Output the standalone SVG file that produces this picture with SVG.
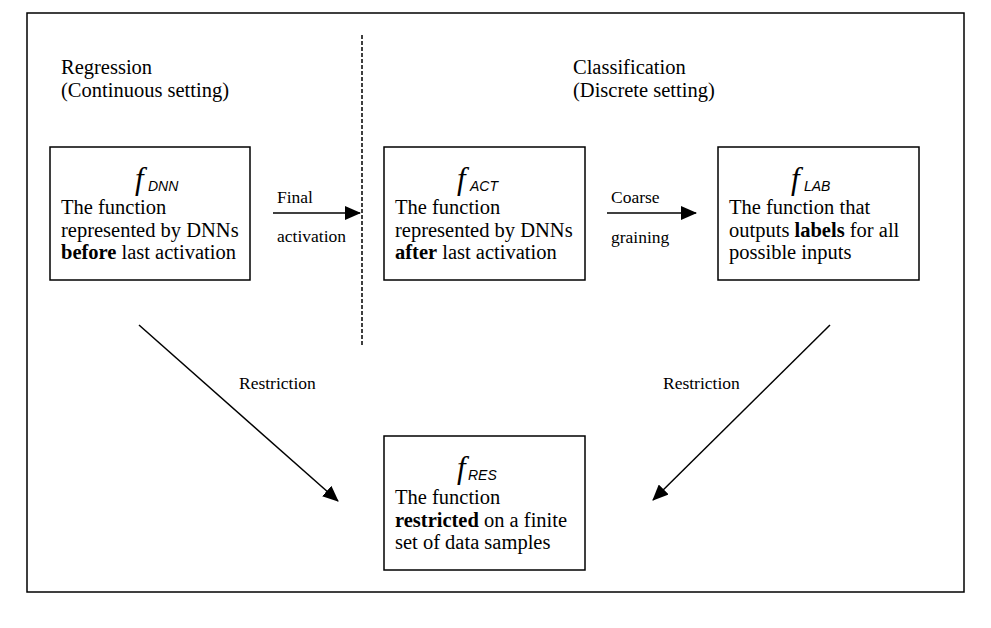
<svg xmlns="http://www.w3.org/2000/svg" width="991" height="628" viewBox="0 0 991 628">
<style>
.box{fill:#fff;stroke:#000;stroke-width:1.5}
.t{font-family:"Liberation Serif",serif;font-size:20.5px;fill:#000}
.b{font-weight:bold}
.f{font-family:"Liberation Serif",serif;font-style:italic;font-size:31px;fill:#000}
.s{font-family:"Liberation Sans",sans-serif;font-style:italic;font-size:14px;fill:#000}
.l{font-family:"Liberation Serif",serif;font-size:17.5px;fill:#000}
.c{stroke:#000;stroke-width:1.5;fill:none}
</style>
<defs>
<marker id="ah2" markerWidth="16" markerHeight="14" refX="15" refY="7" orient="auto" markerUnits="userSpaceOnUse" viewBox="0 0 16 14">
<path d="M0,0 L16,7 L0,14 Z" fill="#000"/>
</marker>
</defs>
<rect x="27" y="13" width="937" height="579" fill="#fff" stroke="#000" stroke-width="1.5"/>
<text class="t" x="61" y="74">Regression</text>
<text class="t" x="61" y="97">(Continuous setting)</text>
<text class="t" x="573" y="74">Classification</text>
<text class="t" x="573" y="97">(Discrete setting)</text>
<line x1="362" y1="35" x2="362" y2="346" stroke="#000" stroke-width="1.5" stroke-dasharray="4,2"/>
<g id="dnn">
<rect class="box" x="50" y="147" width="200" height="133"/>
<text class="f" x="135" y="189">f</text><text class="s" x="148" y="191">DNN</text>
<text class="t" x="61" y="214">The function</text>
<text class="t" x="61" y="237">represented by DNNs</text>
<text class="t" x="61" y="259"><tspan class="b">before</tspan> last activation</text>
</g>
<g id="act">
<rect class="box" x="384" y="147" width="201" height="133"/>
<text class="f" x="457" y="189">f</text><text class="s" x="470" y="191">ACT</text>
<text class="t" x="395" y="214">The function</text>
<text class="t" x="395" y="237">represented by DNNs</text>
<text class="t" x="395" y="259"><tspan class="b">after</tspan> last activation</text>
</g>
<g id="lab">
<rect class="box" x="718" y="147" width="201" height="133"/>
<text class="f" x="791" y="189">f</text><text class="s" x="804" y="191">LAB</text>
<text class="t" x="729" y="214">The function that</text>
<text class="t" x="729" y="237">outputs <tspan class="b">labels</tspan> for all</text>
<text class="t" x="729" y="259">possible inputs</text>
</g>
<g id="res">
<rect class="box" x="384" y="436" width="201" height="134"/>
<text class="f" x="457" y="478">f</text><text class="s" x="468" y="480">RES</text>
<text class="t" x="395" y="504">The function</text>
<text class="t" x="395" y="527"><tspan class="b">restricted</tspan> on a finite</text>
<text class="t" x="395" y="549">set of data samples</text>
</g>
<g id="connectors">
<line class="c" x1="273" y1="213" x2="360" y2="213" marker-end="url(#ah2)"/>
<text class="l" x="277" y="203">Final</text>
<text class="l" x="277" y="242">activation</text>
<line class="c" x1="607" y1="213" x2="696" y2="213" marker-end="url(#ah2)"/>
<text class="l" x="611" y="203">Coarse</text>
<text class="l" x="611" y="243">graining</text>
<line class="c" x1="139" y1="325" x2="338" y2="501" marker-end="url(#ah2)"/>
<text class="l" x="239" y="389">Restriction</text>
<line class="c" x1="830" y1="325" x2="653" y2="500" marker-end="url(#ah2)"/>
<text class="l" x="663" y="389">Restriction</text>
</g>
</svg>
